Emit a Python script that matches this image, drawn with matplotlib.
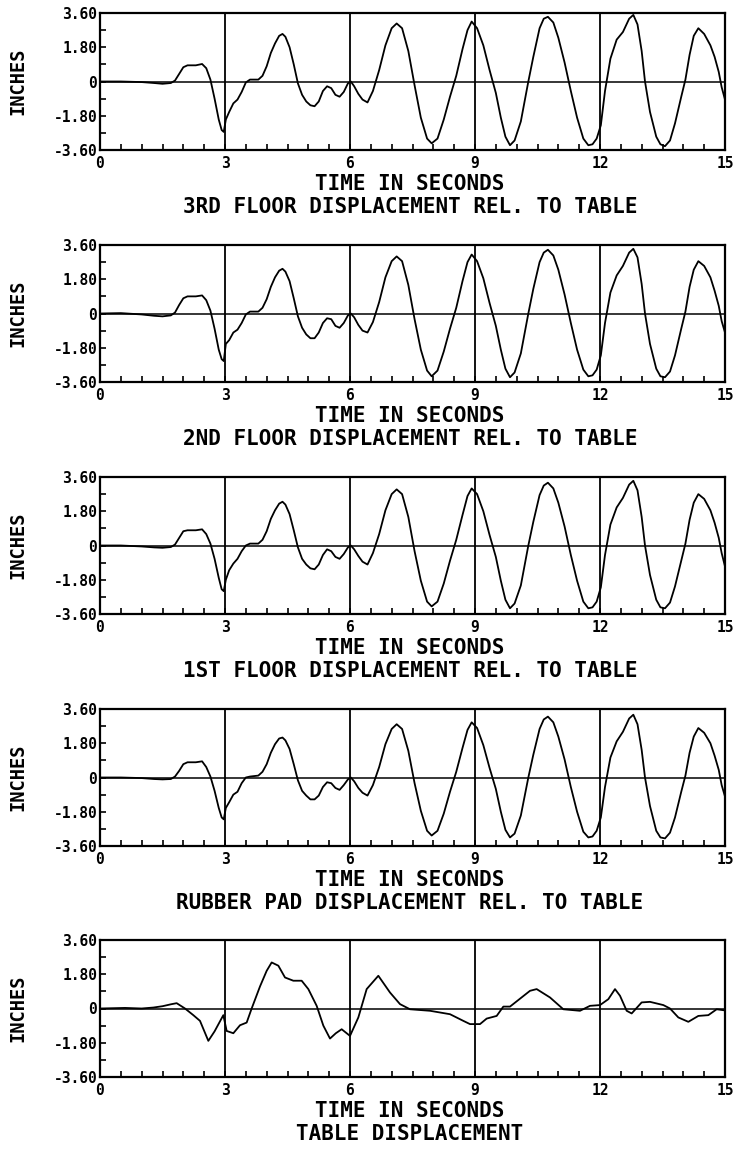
import matplotlib
matplotlib.use("Agg")
import matplotlib.pyplot as plt
from matplotlib.ticker import MultipleLocator

plt.rcParams['font.family'] = ['DejaVu Sans Mono', 'DejaVu Sans']
plt.rcParams['font.weight'] = 'bold'

t_floor = [0.0, 0.5, 1.0, 1.3, 1.5, 1.7, 1.8, 1.9, 2.0, 2.1,
           2.3, 2.45, 2.55, 2.65, 2.75, 2.85, 2.92, 2.97, 3.02, 3.1,
           3.2, 3.3, 3.4, 3.5, 3.6, 3.8, 3.9, 4.0, 4.1, 4.2,
           4.3, 4.38, 4.45, 4.55, 4.65, 4.75, 4.85, 4.95, 5.05, 5.15,
           5.25, 5.35, 5.45, 5.55, 5.65, 5.75, 5.85, 5.95, 6.02, 6.1,
           6.2, 6.3, 6.42, 6.55, 6.7, 6.85, 7.0, 7.12, 7.25, 7.4,
           7.55, 7.7, 7.85, 7.96, 8.1, 8.25, 8.4, 8.55, 8.7, 8.82,
           8.92, 9.05, 9.2, 9.35, 9.5, 9.62, 9.73, 9.84, 9.95, 10.1,
           10.28, 10.4, 10.55, 10.65, 10.75, 10.88, 11.0, 11.15, 11.3, 11.45,
           11.6, 11.72, 11.82, 11.92, 12.02, 12.12, 12.25, 12.4, 12.55, 12.7,
           12.8, 12.9, 13.0, 13.08, 13.2, 13.35, 13.45, 13.56, 13.68, 13.8,
           13.95, 14.05, 14.15, 14.25, 14.36, 14.5, 14.65, 14.75, 14.85, 14.92,
           15.0]

floor3 = [0.0, 0.0, -0.03, -0.08, -0.12, -0.08, 0.05, 0.4, 0.75, 0.85,
          0.85, 0.92, 0.7, 0.1, -0.9, -2.0, -2.55, -2.65, -2.0, -1.6,
          -1.15, -0.95, -0.55, -0.05, 0.1, 0.1, 0.3, 0.8, 1.5, 2.0,
          2.4, 2.5, 2.35, 1.8, 0.9, -0.1, -0.7, -1.05, -1.25, -1.3,
          -1.05, -0.5, -0.25, -0.35, -0.7, -0.8, -0.55, -0.1, 0.0, -0.25,
          -0.65, -0.95, -1.1, -0.5, 0.6, 1.9, 2.8, 3.05, 2.8, 1.6,
          -0.2, -1.9, -3.0, -3.25, -3.0, -2.0, -0.8, 0.3, 1.7, 2.7,
          3.15, 2.8, 1.9, 0.6, -0.6, -1.9, -2.9, -3.35, -3.1, -2.1,
          0.0, 1.3, 2.8, 3.3, 3.4, 3.1, 2.3, 1.0, -0.5, -1.9,
          -3.0, -3.35, -3.3, -3.0, -2.3, -0.5, 1.2, 2.2, 2.6, 3.3,
          3.5, 3.0, 1.6, 0.0, -1.6, -2.9, -3.3, -3.4, -3.1, -2.2,
          -0.8, 0.1, 1.4, 2.4, 2.8, 2.5, 1.9, 1.3, 0.5, -0.3,
          -0.95]

floor2 = [0.0, 0.02, -0.05, -0.12, -0.15, -0.1, 0.05, 0.45, 0.8, 0.9,
          0.9, 0.95, 0.7, 0.15, -0.8, -1.9, -2.4, -2.5, -1.6, -1.4,
          -1.0, -0.85, -0.5, -0.05, 0.1, 0.1, 0.3, 0.75, 1.4, 1.9,
          2.25, 2.35, 2.2, 1.7, 0.8, -0.15, -0.75, -1.1, -1.3, -1.3,
          -1.0, -0.5, -0.25, -0.3, -0.65, -0.75, -0.5, -0.1, 0.0, -0.2,
          -0.6, -0.9, -1.0, -0.45, 0.6, 1.9, 2.75, 3.0, 2.75, 1.5,
          -0.3, -1.9, -3.0, -3.3, -3.0, -2.0, -0.8, 0.3, 1.7, 2.7,
          3.1, 2.75, 1.85, 0.55, -0.65, -1.9, -2.9, -3.35, -3.1, -2.1,
          0.0, 1.3, 2.7, 3.2, 3.35, 3.05, 2.3, 1.0, -0.5, -1.9,
          -2.95, -3.3, -3.25, -2.95, -2.2, -0.5, 1.1, 2.0, 2.5, 3.2,
          3.4, 2.95, 1.55, 0.0, -1.6, -2.9, -3.3, -3.35, -3.05, -2.2,
          -0.8, 0.1, 1.4, 2.3, 2.75, 2.5, 1.9, 1.2, 0.4, -0.4,
          -1.0]

floor1 = [0.0, 0.0, -0.05, -0.1, -0.12, -0.08, 0.05, 0.4, 0.75, 0.8,
          0.8, 0.85, 0.6, 0.1, -0.7, -1.7, -2.3, -2.4, -1.8, -1.3,
          -0.95, -0.7, -0.3, 0.0, 0.1, 0.1, 0.3, 0.75, 1.4, 1.85,
          2.2, 2.3, 2.15, 1.65, 0.8, -0.1, -0.7, -1.0, -1.2, -1.25,
          -1.0, -0.5, -0.2, -0.3, -0.6, -0.7, -0.45, -0.1, 0.0, -0.2,
          -0.55, -0.85, -1.0, -0.4, 0.6, 1.85, 2.7, 2.95, 2.7, 1.5,
          -0.3, -1.85, -2.95, -3.2, -2.95, -2.0, -0.8, 0.3, 1.6, 2.6,
          3.0, 2.7, 1.8, 0.55, -0.6, -1.85, -2.85, -3.3, -3.05, -2.1,
          0.0, 1.25, 2.65, 3.15, 3.3, 3.0, 2.25, 1.0, -0.5, -1.85,
          -2.95, -3.3, -3.25, -2.95, -2.2, -0.5, 1.1, 2.0, 2.5, 3.2,
          3.4, 2.9, 1.5, 0.0, -1.55, -2.85, -3.25, -3.3, -3.0, -2.15,
          -0.8, 0.1, 1.35, 2.25, 2.7, 2.45, 1.85, 1.2, 0.4, -0.4,
          -1.1]

pad = [0.0, 0.0, -0.03, -0.08, -0.1, -0.08, 0.05, 0.35, 0.7, 0.8,
       0.8, 0.85, 0.55, 0.05, -0.7, -1.6, -2.1, -2.2, -1.6, -1.3,
       -0.9, -0.75, -0.3, 0.0, 0.05, 0.1, 0.3, 0.7, 1.3, 1.75,
       2.05, 2.1, 1.95, 1.5, 0.7, -0.15, -0.7, -0.95, -1.15, -1.15,
       -0.95, -0.5, -0.25, -0.3, -0.55, -0.65, -0.4, -0.1, 0.0, -0.2,
       -0.55, -0.8, -0.95, -0.4, 0.55, 1.75, 2.55, 2.8, 2.55, 1.4,
       -0.3, -1.75, -2.8, -3.05, -2.8, -1.9, -0.75, 0.3, 1.55, 2.5,
       2.9, 2.6, 1.7, 0.5, -0.6, -1.8, -2.75, -3.15, -2.95, -2.0,
       0.0, 1.2, 2.55, 3.05, 3.2, 2.9, 2.15, 0.95, -0.5, -1.8,
       -2.85, -3.15, -3.1, -2.8, -2.1, -0.5, 1.05, 1.9, 2.4, 3.1,
       3.3, 2.8, 1.45, 0.0, -1.5, -2.8, -3.15, -3.2, -2.9, -2.1,
       -0.75, 0.1, 1.3, 2.15, 2.6, 2.35, 1.8, 1.15, 0.4, -0.4,
       -1.0]

t_table = [0.0, 0.6, 1.0, 1.28, 1.5, 1.7, 1.84, 2.04, 2.24, 2.4,
           2.6, 2.75, 2.96, 3.04, 3.2, 3.36, 3.52, 3.64, 3.84, 4.0,
           4.12, 4.28, 4.44, 4.64, 4.84, 5.0, 5.2, 5.36, 5.52, 5.66,
           5.8, 6.0, 6.2, 6.4, 6.68, 6.96, 7.2, 7.44, 7.92, 8.4,
           8.72, 8.88, 9.12, 9.28, 9.52, 9.68, 9.84, 10.32, 10.48, 10.8,
           11.12, 11.52, 11.76, 12.0, 12.2, 12.36, 12.48, 12.64, 12.76, 13.0,
           13.2, 13.52, 13.68, 13.88, 14.12, 14.36, 14.6, 14.8, 15.0]
table = [0.0, 0.03, 0.0, 0.05, 0.12, 0.22, 0.28, 0.0, -0.35, -0.65,
         -1.7, -1.2, -0.35, -1.18, -1.3, -0.88, -0.74, 0.0, 1.16, 1.98,
         2.42, 2.25, 1.63, 1.46, 1.46, 1.02, 0.14, -0.9, -1.58, -1.3,
         -1.09, -1.44, -0.47, 1.02, 1.72, 0.84, 0.23, -0.04, -0.12, -0.3,
         -0.65, -0.82, -0.82, -0.53, -0.39, 0.1, 0.1, 0.93, 1.02, 0.58,
         -0.04, -0.12, 0.14, 0.18, 0.49, 1.02, 0.67, -0.12, -0.26, 0.32,
         0.35, 0.18, 0.0, -0.47, -0.7, -0.39, -0.35, -0.04, -0.1]

titles = ["3RD FLOOR DISPLACEMENT REL. TO TABLE",
          "2ND FLOOR DISPLACEMENT REL. TO TABLE",
          "1ST FLOOR DISPLACEMENT REL. TO TABLE",
          "RUBBER PAD DISPLACEMENT REL. TO TABLE",
          "TABLE DISPLACEMENT"]
x_ticks = [0, 3, 6, 9, 12, 15]
x_labels = ["0", "3", "6", "9", "12", "15"]
y_ticks = [-3.6, -1.8, 0, 1.8, 3.6]
y_labels = ["-3.60", "-1.80", "0", "1.80", "3.60"]

series = [(t_floor, floor3), (t_floor, floor2), (t_floor, floor1),
          (t_floor, pad), (t_table, table)]

W, H = 737, 1150
tops = [13, 245, 477, 709, 940]
ph = 137

fig = plt.figure(figsize=(W / 100, H / 100), dpi=100)
for (t, v), title, top in zip(series, titles, tops):
    bottom = top + ph
    ax = fig.add_axes([100 / W, 1 - bottom / H, 625 / W, ph / H])
    ax.plot(t, v, color='k', lw=1.3)
    ax.axhline(0, color='k', lw=1.1)
    for xv in x_ticks[1:-1]:
        ax.axvline(xv, color='k', lw=1.3)
    ax.set_xlim(0, 15)
    ax.set_ylim(-3.6, 3.6)
    ax.set_xticks(x_ticks)
    ax.set_xticklabels(x_labels)
    ax.set_yticks(y_ticks)
    ax.set_yticklabels(y_labels)
    ax.xaxis.set_minor_locator(MultipleLocator(0.5))
    ax.yaxis.set_minor_locator(MultipleLocator(0.9))
    ax.tick_params(which='both', direction='in', length=4.5, width=1.2,
                   top=False, right=False)
    ax.tick_params(axis='x', pad=4, labelsize=10.5)
    ax.tick_params(axis='y', pad=2, labelsize=10.5)
    for s in ax.spines.values():
        s.set_linewidth(1.6)

    fig.text(18 / W, 1 - (top + ph / 2) / H, "INCHES", rotation=90,
             ha='center', va='center', fontsize=13.5)
    fig.text(410 / W, 1 - (bottom + 34) / H, "TIME IN SECONDS",
             ha='center', va='center', fontsize=15)
    fig.text(410 / W, 1 - (bottom + 57) / H, title,
             ha='center', va='center', fontsize=15)

fig.savefig("out.png", dpi=100)
